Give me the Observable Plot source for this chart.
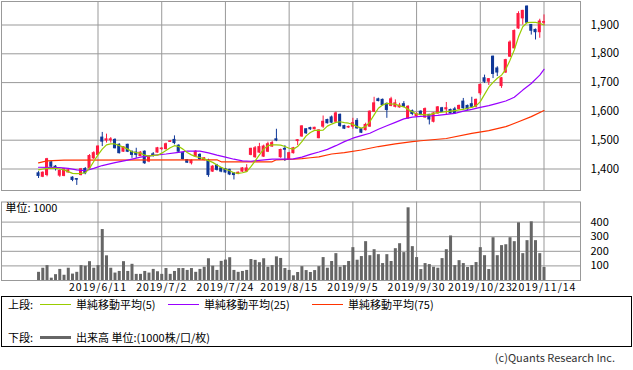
<!DOCTYPE html>
<html><head><meta charset="utf-8">
<script src="https://cdn.jsdelivr.net/npm/d3@7"></script>
<script src="https://cdn.jsdelivr.net/npm/@observablehq/plot@0.6"></script>
<style>
html,body{margin:0;padding:0;background:#fff;}
#chart{position:relative;width:633px;height:370px;overflow:hidden;font-family:"Noto Sans CJK JP","Noto Sans",sans-serif;color:#000;background:#fff;}
#price,#vol{position:absolute;left:0;}
#price{top:0;} #vol{top:196px;}
#legend{position:absolute;left:1px;top:296px;width:631px;height:51px;border:1px solid #000;box-sizing:border-box;font-size:11px;}
.lg{position:absolute;white-space:nowrap;line-height:12px;}
.sw{position:absolute;height:0;width:31px;}
#copy{position:absolute;right:18px;top:351px;font-size:11px;line-height:13px;color:#333;white-space:nowrap;}
#vol g[aria-label="x-axis tick label"] text{letter-spacing:1px;}
</style></head>
<body>
<div id="chart">
  <div id="price"></div>
  <div id="vol"></div>
  <div id="legend">
    <div class="lg" style="left:6px;top:1px">上段:</div>
    <div class="sw" style="left:38px;top:7px;border-top:1px solid #99cc00"></div>
    <div class="lg" style="left:74px;top:1px">単純移動平均(5)</div>
    <div class="sw" style="left:166px;top:7px;border-top:1px solid #9900ff"></div>
    <div class="lg" style="left:202px;top:1px">単純移動平均(25)</div>
    <div class="sw" style="left:310px;top:7px;border-top:1px solid #ff3300"></div>
    <div class="lg" style="left:346px;top:1px">単純移動平均(75)</div>
    <div class="lg" style="left:6px;top:34px">下段:</div>
    <div class="sw" style="left:38px;top:39px;border-top:3px solid #666"></div>
    <div class="lg" style="left:74px;top:34px">出来高 単位:(1000株/口/枚)</div>
  </div>
  <div id="copy">(c)Quants Research Inc.</div>
</div>
<script>
// ---- data (index 0 = 2019/5/22 ... index 119 = 2019/11/14) ----
const tickIdx = [14, 29, 44, 59, 74, 89, 104, 119];
const tickLabels = ["2019/6/11","2019/7/2","2019/7/24","2019/8/15","2019/9/5","2019/9/30","2019/10/23","2019/11/14"];
const priceTicks = [1400, 1500, 1600, 1700, 1800, 1900];
const volTicks = [100, 200, 300, 400];

const open = [
1385,1373,1379,1423,1408,1377,1376,1388,1370,1365,
1379,1400,1402,1437,1449,1509,1499,1500,1501,1484,
1460,1484,1460,1457,1445,1460,1426,1451,1457,1469,
1469,1494,1501,1481,1455,1431,1420,1443,1449,1431,
1429,1391,1412,1402,1400,1397,1385,1383,1391,1391,
1449,1441,1457,1443,1460,1478,1503,1441,1470,1434,
1455,1497,1513,1538,1542,1538,1507,1547,1570,1579,
1564,1588,1549,1544,1547,1567,1538,1535,1547,1599,
1642,1640,1626,1619,1616,1614,1625,1576,1601,1584,
1599,1579,1588,1564,1593,1611,1607,1605,1607,1608,
1634,1619,1625,1616,1663,1715,1703,1790,1749,1688,
1735,1790,1819,1888,1923,1964,1900,1883,1875,1908];
const high = [
1391,1390,1437,1426,1412,1397,1402,1398,1373,1367,
1402,1405,1450,1460,1480,1527,1521,1509,1505,1488,
1478,1486,1462,1472,1460,1463,1446,1457,1475,1474,
1490,1499,1515,1484,1457,1433,1432,1464,1453,1440,
1434,1412,1416,1405,1402,1399,1387,1390,1405,1415,
1472,1478,1489,1483,1493,1496,1538,1469,1481,1458,
1475,1502,1550,1540,1545,1545,1536,1584,1573,1584,
1598,1591,1552,1549,1576,1575,1540,1559,1602,1649,
1646,1643,1629,1649,1640,1628,1634,1620,1605,1595,
1602,1612,1590,1596,1617,1614,1631,1608,1614,1622,
1645,1622,1649,1643,1695,1726,1714,1792,1755,1718,
1781,1845,1883,1946,1951,1966,1902,1886,1920,1935];
const low = [
1367,1370,1373,1405,1393,1371,1373,1386,1356,1343,
1376,1380,1400,1433,1446,1478,1490,1490,1470,1452,
1458,1457,1437,1437,1443,1416,1422,1441,1455,1465,
1466,1492,1484,1456,1431,1419,1414,1440,1430,1428,
1371,1388,1393,1387,1385,1377,1362,1380,1388,1388,
1446,1437,1454,1440,1457,1475,1495,1437,1426,1430,
1452,1481,1510,1520,1534,1536,1505,1541,1556,1558,
1562,1545,1537,1541,1538,1538,1523,1532,1545,1596,
1633,1619,1576,1616,1612,1611,1613,1572,1585,1580,
1585,1576,1553,1560,1590,1597,1588,1590,1590,1605,
1607,1604,1613,1612,1655,1697,1690,1714,1721,1680,
1732,1787,1816,1885,1900,1905,1865,1848,1854,1898];
const close = [
1376,1387,1434,1408,1400,1393,1399,1395,1362,1363,
1399,1385,1445,1455,1478,1495,1503,1503,1472,1455,
1476,1460,1449,1449,1457,1420,1443,1448,1472,1471,
1486,1496,1490,1460,1434,1422,1429,1460,1434,1437,
1379,1408,1397,1391,1388,1381,1379,1387,1402,1402,
1470,1472,1476,1478,1486,1490,1499,1466,1467,1455,
1472,1500,1548,1524,1538,1543,1534,1564,1559,1561,
1593,1549,1540,1546,1559,1541,1526,1553,1599,1628,
1636,1622,1605,1642,1628,1620,1616,1616,1591,1591,
1588,1608,1572,1593,1614,1599,1611,1593,1593,1619,
1611,1607,1616,1640,1692,1703,1712,1730,1735,1715,
1778,1839,1879,1938,1949,1908,1880,1875,1912,1910];
const volume = [
56,84,102,16,40,76,36,84,44,56,
102,98,129,84,102,349,169,84,51,62,
129,62,111,42,42,62,51,76,60,42,
82,42,62,82,82,69,82,56,76,91,
149,98,69,131,140,156,69,56,62,69,
144,138,122,149,91,102,162,151,82,69,
32,55,95,68,55,68,95,157,84,130,
184,91,102,130,225,139,164,266,170,211,
177,116,177,130,218,252,191,498,232,157,
75,116,109,91,84,150,211,305,102,136,
116,89,102,123,225,170,75,293,170,239,
245,293,266,395,184,273,402,273,184,89];
const ma5 = [
1397,1400,1402,1402,1402,1400,1397,1391,1385,1384,
1385,1387,1402,1426,1449,1469,1484,1487,1487,1481,
1476,1469,1460,1457,1455,1448,1445,1447,1448,1455,
1464,1474,1481,1478,1469,1457,1449,1443,1440,1435,
1429,1423,1414,1406,1399,1394,1387,1385,1387,1391,
1408,1428,1449,1469,1481,1484,1484,1483,1478,1472,
1469,1478,1495,1515,1527,1534,1534,1535,1549,1556,
1562,1564,1561,1559,1555,1547,1542,1547,1564,1588,
1611,1622,1628,1626,1625,1619,1616,1607,1599,1591,
1590,1588,1588,1593,1596,1597,1599,1601,1603,1605,
1607,1611,1614,1619,1634,1659,1684,1701,1715,1726,
1746,1778,1813,1859,1894,1908,1909,1909,1906,1900];
const ma25Idx = [0,5,7,9,11,13,15,18,21,24,27,30,33,35,38,40,42,44,46,48,50,52,55,58,60,62,64,66,68,70,72,74,76,78,80,82,84,86,88,90,92,94,96,98,100,102,104,106,108,110,112,114,116,118,119];
const ma25Val = [1406,1405,1402,1397,1394,1402,1412,1422,1431,1441,1447,1452,1458,1462,1462,1456,1448,1441,1434,1428,1427,1430,1434,1434,1435,1441,1451,1459,1468,1481,1495,1507,1516,1524,1538,1550,1562,1574,1580,1583,1584,1586,1590,1593,1601,1607,1614,1620,1628,1636,1649,1674,1697,1726,1746];
const ma75Idx = [0,1,2,6,42,43,55,56,60,62,64,66,69,72,76,80,84,88,90,96,102,106,110,113,116,119];
const ma75Val = [1421,1425,1428,1431,1432,1425,1425,1432,1434,1436,1439,1442,1452,1457,1466,1478,1487,1495,1498,1506,1524,1533,1547,1564,1582,1603];

// ---- build ----
const RED = "#ff1a40", BLUE = "#0f3797", GRID = "#999";
const candles = open.map((o, i) => ({i, o, h: high[i], l: low[i], c: close[i], v: volume[i], m: ma5[i]}));
const ma25 = ma25Idx.map((i, k) => ({i, v: ma25Val[k]}));
const ma75 = ma75Idx.map((i, k) => ({i, v: ma75Val[k]}));
const xDomain = [-8.72, 127.59];
const col = d => d.c >= d.o ? RED : BLUE;
const font = '"Noto Sans CJK JP","Noto Sans",sans-serif';

const price = Plot.plot({
  width: 633, height: 191,
  marginTop: 1, marginBottom: 1, marginLeft: 1, marginRight: 53,
  x: {domain: xDomain, axis: null},
  y: {domain: [1325.35, 1981.6]},
  style: {fontFamily: font, fontSize: "11.5px", background: "transparent", color: "#000"},
  marks: [
    Plot.gridX(tickIdx, {stroke: GRID, strokeOpacity: 1}),
    Plot.gridY(priceTicks, {stroke: GRID, strokeOpacity: 1}),
    Plot.frame({stroke: GRID}),
    Plot.axisY(priceTicks, {anchor: "right", tickSize: 0, tickPadding: 10, tickFormat: d3.format(","), label: null}),
    Plot.ruleX(candles, {x: "i", y1: "l", y2: "h", stroke: col, strokeWidth: 1}),
    Plot.rect(candles, {x1: d => d.i - 0.36, x2: d => d.i + 0.36, y1: "o", y2: "c", fill: col, insetTop: -0.5, insetBottom: -0.5}),
    Plot.line(ma75, {x: "i", y: "v", stroke: "#ff3300", strokeWidth: 1.2}),
    Plot.line(ma25, {x: "i", y: "v", stroke: "#9900ff", strokeWidth: 1.2}),
    Plot.line(candles, {x: "i", y: "m", stroke: "#99cc00", strokeWidth: 1.2})
  ]
});
document.getElementById("price").appendChild(price);

const vol = Plot.plot({
  width: 633, height: 100,
  marginTop: 5.5, marginBottom: 16, marginLeft: 1, marginRight: 53,
  x: {domain: xDomain},
  y: {domain: [0, 537.7]},
  style: {fontFamily: font, fontSize: "11px", background: "transparent", color: "#000"},
  marks: [
    Plot.gridX(tickIdx, {stroke: GRID, strokeOpacity: 1}),
    Plot.gridY(volTicks, {stroke: GRID, strokeOpacity: 1}),
    Plot.frame({stroke: GRID}),
    Plot.ruleX(candles, {x: "i", y1: 0, y2: "v", stroke: "#666", strokeWidth: 3}),
    Plot.axisY(volTicks, {anchor: "right", tickSize: 0, tickPadding: 10, label: null}),
    Plot.axisX(tickIdx, {anchor: "bottom", tickSize: 0, tickPadding: 3, fontSize: 10.5, label: null,
      tickFormat: d => tickLabels[tickIdx.indexOf(d)]}),
    Plot.text(["単位: 1000"], {frameAnchor: "top-left", dx: 4, dy: 2, fontSize: 11, fill: "#000"})
  ]
});
document.getElementById("vol").appendChild(vol);
</script>
</body></html>
